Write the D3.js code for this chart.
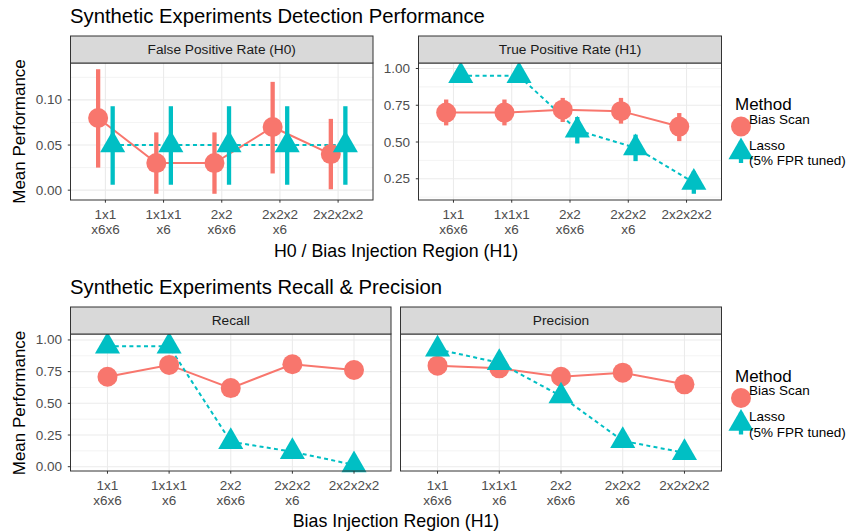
<!DOCTYPE html>
<html>
<head>
<meta charset="utf-8">
<script src="https://cdn.jsdelivr.net/npm/d3@7"></script>
<style>
  html, body { margin: 0; padding: 0; background: #fff; }
  svg text { font-family: "Liberation Sans", Arial, sans-serif; }
</style>
</head>
<body>
<div id="chart"></div>
<script>
// categories (x axis), two-line labels
const CATEGORIES = ['1x1\nx6x6', '1x1x1\nx6', '2x2\nx6x6', '2x2x2\nx6', '2x2x2x2'];
const METHODS = ['Bias Scan', 'Lasso\n(5% FPR tuned)'];

// False Positive Rate (H0)
const FPR_BIAS = [0.08, 0.03, 0.03, 0.07, 0.04];
const FPR_BIAS_LO = [0.025, -0.004, -0.004, 0.0185, 0.001];
const FPR_BIAS_HI = [0.134, 0.064, 0.064, 0.120, 0.079];
const FPR_LASSO = [0.05, 0.05, 0.05, 0.05, 0.05];
const FPR_LASSO_LO = [0.006, 0.006, 0.006, 0.006, 0.006];
const FPR_LASSO_HI = [0.093, 0.093, 0.093, 0.093, 0.093];

// True Positive Rate (H1)
const TPR_BIAS = [0.70, 0.70, 0.72, 0.71, 0.605];
const TPR_BIAS_LO = [0.613, 0.613, 0.636, 0.625, 0.506];
const TPR_BIAS_HI = [0.789, 0.789, 0.80, 0.80, 0.697];
const TPR_LASSO = [0.95, 0.95, 0.58, 0.46, 0.225];
const TPR_LASSO_LO = [0.91, 0.91, 0.49, 0.37, 0.148];
const TPR_LASSO_HI = [0.995, 0.995, 0.67, 0.55, 0.30];

// Recall & Precision
const RECALL_BIAS = [0.71, 0.803, 0.62, 0.808, 0.763];
const RECALL_LASSO = [0.95, 0.95, 0.197, 0.118, 0.014];
const PRECISION_BIAS = [0.797, 0.776, 0.71, 0.742, 0.65];
const PRECISION_LASSO = [0.926, 0.82, 0.557, 0.204, 0.11];

const FPR_TICKS = [0, 0.05, 0.10];
const RATE_TICKS = [0.25, 0.50, 0.75, 1.00];
const RP_TICKS = [0, 0.25, 0.50, 0.75, 1.00];
const RP_DOMAIN = [-0.034, 1.047];

const COLORS = ['#F8766D', '#00BFC4'];
const FONT_AXIS = 13.5;

const svg = d3.select('#chart').append('svg')
  .attr('width', 852)
  .attr('height', 531);

function expand(lo, hi) {
  const pad = (hi - lo) * 0.05;
  return [lo - pad, hi + pad];
}

function drawPanel(p) {
  const g = svg.append('g');
  const x = d3.scalePoint()
    .domain(d3.range(CATEGORIES.length))
    .range([p.x0, p.x1])
    .padding(0.6);
  const y = d3.scaleLinear().domain(p.domain).range([p.y1, p.y0]);
  const step = x.step();

  g.append('rect')
    .attr('x', p.x0).attr('y', p.y0)
    .attr('width', p.x1 - p.x0).attr('height', p.y1 - p.y0)
    .attr('fill', '#fff');

  // minor grid
  const tStep = p.ticks[1] - p.ticks[0];
  const minor = d3.range(p.ticks[0] - tStep / 2, p.domain[1], tStep)
    .filter(v => v > p.domain[0] && v < p.domain[1]);
  g.selectAll('.minor').data(minor).join('line')
    .attr('x1', p.x0).attr('x2', p.x1)
    .attr('y1', d => y(d)).attr('y2', d => y(d))
    .attr('stroke', '#EBEBEB').attr('stroke-width', 0.6);

  // major grid
  g.selectAll('.hmajor').data(p.ticks).join('line')
    .attr('x1', p.x0).attr('x2', p.x1)
    .attr('y1', d => y(d)).attr('y2', d => y(d))
    .attr('stroke', '#EBEBEB').attr('stroke-width', 1.1);
  g.selectAll('.vmajor').data(x.domain()).join('line')
    .attr('x1', d => x(d)).attr('x2', d => x(d))
    .attr('y1', p.y0).attr('y2', p.y1)
    .attr('stroke', '#EBEBEB').attr('stroke-width', 1.1);

  const offsets = p.dodge ? [-0.125 * step, 0.125 * step] : [0, 0];

  // connecting lines
  p.series.forEach((s, si) => {
    const line = d3.line()
      .x((d, i) => x(i) + offsets[si])
      .y(d => y(d));
    g.append('path')
      .attr('d', line(s.values))
      .attr('fill', 'none')
      .attr('stroke', COLORS[si])
      .attr('stroke-width', 2)
      .attr('stroke-dasharray', si === 1 ? '4,3.3' : null);
  });

  // error bars
  p.series.forEach((s, si) => {
    if (!s.lo) return;
    g.selectAll(null).data(s.values).join('line')
      .attr('x1', (d, i) => x(i) + offsets[si])
      .attr('x2', (d, i) => x(i) + offsets[si])
      .attr('y1', (d, i) => y(s.lo[i]))
      .attr('y2', (d, i) => y(s.hi[i]))
      .attr('stroke', COLORS[si])
      .attr('stroke-width', 4.3);
  });

  // points
  p.series.forEach((s, si) => {
    if (si === 0) {
      g.selectAll(null).data(s.values).join('circle')
        .attr('cx', (d, i) => x(i) + offsets[si])
        .attr('cy', d => y(d))
        .attr('r', 10)
        .attr('fill', COLORS[si]);
    } else {
      g.selectAll(null).data(s.values).join('path')
        .attr('d', d3.symbol(d3.symbolTriangle, 272))
        .attr('transform', (d, i) => `translate(${x(i) + offsets[si]},${y(d)})`)
        .attr('fill', COLORS[si]);
    }
  });

  // panel border
  g.append('rect')
    .attr('x', p.x0).attr('y', p.y0)
    .attr('width', p.x1 - p.x0).attr('height', p.y1 - p.y0)
    .attr('fill', 'none').attr('stroke', '#333').attr('stroke-width', 1);

  // strip
  g.append('rect')
    .attr('x', p.x0).attr('y', p.y0 - 27)
    .attr('width', p.x1 - p.x0).attr('height', 27)
    .attr('fill', '#D9D9D9').attr('stroke', '#333').attr('stroke-width', 1);
  g.append('text')
    .attr('x', (p.x0 + p.x1) / 2).attr('y', p.y0 - 13.5)
    .attr('text-anchor', 'middle').attr('dominant-baseline', 'central')
    .attr('font-size', 13.7).attr('fill', '#1A1A1A')
    .text(p.title);

  // x axis
  const xa = g.append('g');
  x.domain().forEach(i => {
    xa.append('line')
      .attr('x1', x(i)).attr('x2', x(i))
      .attr('y1', p.y1).attr('y2', p.y1 + 2.7)
      .attr('stroke', '#333');
    const t = xa.append('text')
      .attr('text-anchor', 'middle')
      .attr('font-size', FONT_AXIS).attr('fill', '#4D4D4D');
    CATEGORIES[i].split('\n').forEach((ln, k) => {
      t.append('tspan').attr('x', x(i)).attr('y', p.y1 + 19.3 + k * 14.8).text(ln);
    });
  });

  // y axis
  const ya = g.append('g');
  p.ticks.forEach(v => {
    if (p.showYLines !== false) {
      ya.append('line')
        .attr('x1', p.x0 - 2.7).attr('x2', p.x0)
        .attr('y1', y(v)).attr('y2', y(v))
        .attr('stroke', '#333');
    }
    if (p.showY) {
      ya.append('text')
        .attr('x', p.x0 - 8.5).attr('y', y(v))
        .attr('text-anchor', 'end').attr('dominant-baseline', 'central')
        .attr('font-size', FONT_AXIS).attr('fill', '#4D4D4D')
        .text(d3.format('.2f')(v));
    }
  });
}

function drawLegend(top) {
  const g = svg.append('g');
  g.append('text')
    .attr('x', 735).attr('y', top - 1)
    .attr('font-size', 17).attr('fill', '#000')
    .text('Method');
  // Bias Scan key
  g.append('circle').attr('cx', 741).attr('cy', top + 15.5).attr('r', 10).attr('fill', COLORS[0]);
  g.append('text').attr('x', 749).attr('y', top + 12.5)
    .attr('font-size', 13.5).text(METHODS[0]);
  // Lasso key
  g.append('line')
    .attr('x1', 741).attr('x2', 741).attr('y1', top + 30).attr('y2', top + 52)
    .attr('stroke', COLORS[1]).attr('stroke-width', 4.3);
  g.append('path')
    .attr('d', d3.symbol(d3.symbolTriangle, 272))
    .attr('transform', `translate(741,${top + 41})`)
    .attr('fill', COLORS[1]);
  const t = g.append('text').attr('font-size', 13.5);
  METHODS[1].split('\n').forEach((ln, k) => {
    t.append('tspan').attr('x', 749).attr('y', top + 38.5 + k * 15.5).text(ln);
  });
}

// titles
svg.append('text').attr('x', 70).attr('y', 23)
  .attr('font-size', 20.3).text('Synthetic Experiments Detection Performance');
svg.append('text').attr('x', 70).attr('y', 293.5)
  .attr('font-size', 20.3).text('Synthetic Experiments Recall & Precision');

drawPanel({
  x0: 70.5, x1: 373, y0: 63, y1: 200, title: 'False Positive Rate (H0)',
  domain: expand(d3.min(FPR_BIAS_LO), d3.max(FPR_BIAS_HI)), ticks: FPR_TICKS, showY: true, dodge: true,
  series: [
    { values: FPR_BIAS, lo: FPR_BIAS_LO, hi: FPR_BIAS_HI },
    { values: FPR_LASSO, lo: FPR_LASSO_LO, hi: FPR_LASSO_HI }
  ]
});
drawPanel({
  x0: 418.5, x1: 721.5, y0: 63, y1: 200, title: 'True Positive Rate (H1)',
  domain: expand(d3.min(TPR_LASSO_LO), d3.max(TPR_LASSO_HI)), ticks: RATE_TICKS, showY: true, dodge: true,
  series: [
    { values: TPR_BIAS, lo: TPR_BIAS_LO, hi: TPR_BIAS_HI },
    { values: TPR_LASSO, lo: TPR_LASSO_LO, hi: TPR_LASSO_HI }
  ]
});
drawPanel({
  x0: 70.5, x1: 391, y0: 334, y1: 471, title: 'Recall',
  domain: RP_DOMAIN, ticks: RP_TICKS, showY: true, dodge: false,
  series: [{ values: RECALL_BIAS }, { values: RECALL_LASSO }]
});
drawPanel({
  x0: 400.5, x1: 721.5, y0: 334, y1: 471, title: 'Precision',
  domain: RP_DOMAIN, ticks: RP_TICKS, showY: false, showYLines: false, dodge: false,
  series: [{ values: PRECISION_BIAS }, { values: PRECISION_LASSO }]
});

// axis titles
svg.append('text').attr('x', 396).attr('y', 256.5)
  .attr('text-anchor', 'middle').attr('font-size', 17.8)
  .text('H0 / Bias Injection Region (H1)');
svg.append('text').attr('x', 396).attr('y', 527)
  .attr('text-anchor', 'middle').attr('font-size', 17.8)
  .text('Bias Injection Region (H1)');
svg.append('text')
  .attr('transform', 'translate(25,131.5) rotate(-90)')
  .attr('text-anchor', 'middle').attr('font-size', 17)
  .text('Mean Performance');
svg.append('text')
  .attr('transform', 'translate(25,403) rotate(-90)')
  .attr('text-anchor', 'middle').attr('font-size', 17)
  .text('Mean Performance');

drawLegend(111);
drawLegend(382.5);
</script>
</body>
</html>
